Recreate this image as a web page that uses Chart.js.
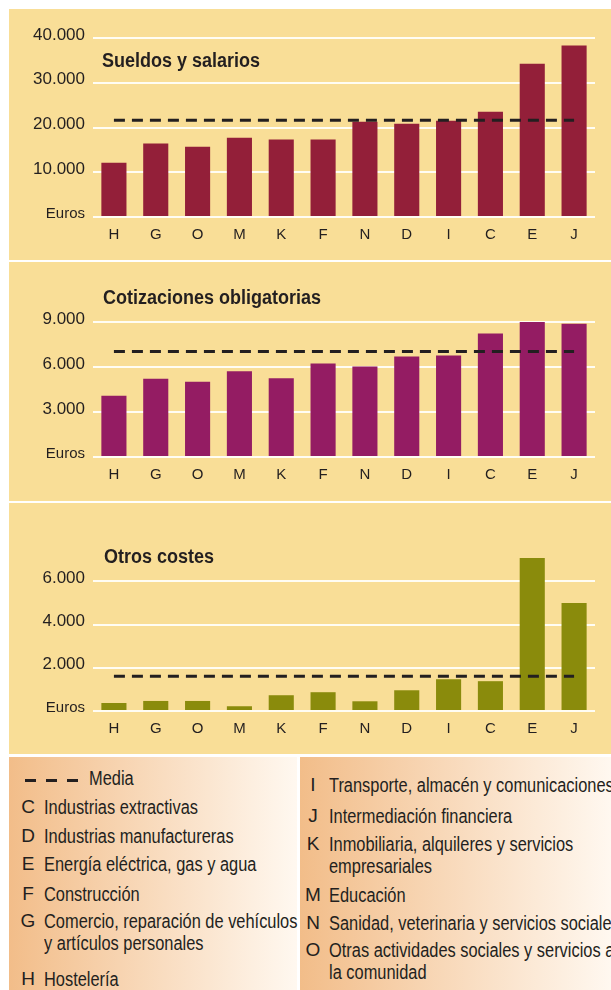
<!DOCTYPE html>
<html lang="es">
<head>
<meta charset="utf-8">
<title>Costes laborales por sector</title>
<script src="https://cdn.jsdelivr.net/npm/chart.js@4.4.0/dist/chart.umd.min.js"></script>
<style>
    body { margin: 0; background: #fff; }
    #page {
        position: relative; width: 611px; height: 990px; overflow: hidden;
        font-family: "Liberation Sans", Arial, sans-serif;
        color: #231f20;
    }
    .panel { position: absolute; left: 9px; width: 602px; background: #F9DE97; }
    .panel canvas { position: absolute; left: 0; top: 0; }
    .title {
        position: absolute; font-weight: bold; font-size: 20px;
        line-height: 24px; white-space: nowrap;
        transform: scaleX(0.9); transform-origin: 0 0;
    }
    .leg { position: absolute; top: 757px; height: 233px; background: linear-gradient(to right, #F2BD89, #FFF8F0); }
    .row { position: absolute; font-size: 20px; line-height: 24px; white-space: nowrap; }
    .key { position: absolute; width: 20px; text-align: center; font-size: 19px; }
    .txt { position: absolute; transform: scaleX(0.82); transform-origin: 0 0; }
    .dash { position: absolute; width: 11px; height: 3px; background: #231f20; }
</style>
</head>
<body>
<div id="page">
    <div class="panel" style="top:9px;height:251px"><canvas id="chart1" width="602" height="251"></canvas></div>
    <div class="panel" style="top:262px;height:239px"><canvas id="chart2" width="602" height="239"></canvas></div>
    <div class="panel" style="top:503px;height:251px"><canvas id="chart3" width="602" height="251"></canvas></div>

    <div class="title" style="left:102px;top:48px">Sueldos y salarios</div>
    <div class="title" style="left:103px;top:285px">Cotizaciones obligatorias</div>
    <div class="title" style="left:104px;top:544px">Otros costes</div>

    <!-- legend boxes -->
    <div class="leg" style="left:9px;width:288px"></div>
    <div class="leg" style="left:300px;width:311px"></div>
    <div id="legend"></div>
</div>

<script>
// ==========================
// Data
// ==========================
const categories = ["H", "G", "O", "M", "K", "F", "N", "D", "I", "C", "E", "J"];

const sueldos = [12100, 16400, 15700, 17700, 17300, 17300, 21300, 20850, 21500, 23500, 34250, 38300];
const sueldosMedia = 21600;
const sueldosTicks = [0, 10000, 20000, 30000, 40000];
const sueldosTickLabels = ["Euros", "10.000", "20.000", "30.000", "40.000"];

const cotizaciones = [4080, 5210, 5010, 5710, 5250, 6240, 6040, 6700, 6770, 8230, 9000, 8890];
const cotizacionesMedia = 7040;
const cotizacionesTicks = [0, 3000, 6000, 9000];
const cotizacionesTickLabels = ["Euros", "3.000", "6.000", "9.000"];

const otros = [370, 465, 465, 220, 730, 870, 450, 960, 1470, 1380, 7080, 5000];
const otrosMedia = 1610;
const otrosTicks = [0, 2000, 4000, 6000];
const otrosTickLabels = ["Euros", "2.000", "4.000", "6.000"];

const legendLeft = [
    ["C", "Industrias extractivas"],
    ["D", "Industrias manufactureras"],
    ["E", "Energía eléctrica, gas y agua"],
    ["F", "Construcción"],
    ["G", "Comercio, reparación de vehículos", "y artículos personales"],
    ["H", "Hostelería"]
];
const legendRight = [
    ["I", "Transporte, almacén y comunicaciones"],
    ["J", "Intermediación financiera"],
    ["K", "Inmobiliaria, alquileres y servicios", "empresariales"],
    ["M", "Educación"],
    ["N", "Sanidad, veterinaria y servicios sociales"],
    ["O", "Otras actividades sociales y servicios a", "la comunidad"]
];

const ink = "#231f20";
const sans = "'Liberation Sans', Arial, sans-serif";

// ==========================
// Chart builder
// ==========================
function makeChart(id, values, media, ticks, tickLabels, yMax, color, topPad, bottomH) {
    const ctx = document.getElementById(id).getContext("2d");
    return new Chart(ctx, {
        type: "bar",
        data: {
            labels: categories,
            datasets: [
                {
                    type: "line",
                    data: categories.map(() => media),
                    borderColor: ink,
                    borderWidth: 3,
                    borderDash: [11, 7],
                    pointRadius: 0,
                    fill: false,
                    order: 0
                },
                {
                    data: values,
                    backgroundColor: color,
                    categoryPercentage: 1,
                    barPercentage: 0.6,
                    order: 1
                }
            ]
        },
        options: {
            responsive: false,
            animation: false,
            layout: { padding: { top: topPad, right: 16, bottom: 0, left: 0 } },
            plugins: { legend: { display: false }, tooltip: { enabled: false } },
            scales: {
                x: {
                    grid: { display: false },
                    border: { display: false },
                    ticks: { color: ink, padding: 1, font: { family: sans, size: 15 } },
                    afterFit: s => { s.height = bottomH; }
                },
                y: {
                    min: 0,
                    max: yMax,
                    afterBuildTicks: s => { s.ticks = ticks.map(v => ({ value: v })); },
                    grid: { color: "#FFFDF4", lineWidth: 2, drawTicks: false },
                    border: { display: false },
                    ticks: {
                        color: ink,
                        padding: 8,
                        labelOffset: -3,
                        callback: (v, i) => tickLabels[i],
                        font: c => (c.tick && c.tick.value === 0)
                            ? { family: sans, size: 15 }
                            : { family: sans, size: 17 }
                    },
                    afterFit: s => { s.width = 84; }
                }
            }
        }
    });
}

makeChart("chart1", sueldos, sueldosMedia, sueldosTicks, sueldosTickLabels, 40000, "#931F39", 29, 43);
makeChart("chart2", cotizaciones, cotizacionesMedia, cotizacionesTicks, cotizacionesTickLabels, 9000, "#941C63", 60, 44);
makeChart("chart3", otros, otrosMedia, otrosTicks, otrosTickLabels, 7500, "#8A8B0C", 46, 43);

// ==========================
// Legend
// ==========================
const legend = document.getElementById("legend");

// dashed "Media" key
legend.innerHTML += `
    <div class="row" style="left:0;top:766px;width:300px;height:24px">
        <div class="dash" style="left:25px;top:13px"></div>
        <div class="dash" style="left:46px;top:13px"></div>
        <div class="dash" style="left:67px;top:13px"></div>
        <span class="txt" style="left:89px">Media</span>
    </div>`;

function addItems(items, tops, keyX, textX) {
    items.forEach((item, i) => {
        let html = `<div class="row" style="left:0;top:${tops[i] - 12}px">
            <span class="key" style="left:${keyX - 10}px">${item[0]}</span>
            <span class="txt" style="left:${textX}px">${item[1]}</span>`;
        if (item[2]) {
            html += `<span class="txt" style="left:${textX}px;top:22px">${item[2]}</span>`;
        }
        legend.innerHTML += html + "</div>";
    });
}

addItems(legendLeft, [807, 836, 864, 894, 921, 979], 28, 44);
addItems(legendRight, [785, 816, 844, 895, 923, 950], 313, 329);
</script>
</body>
</html>
